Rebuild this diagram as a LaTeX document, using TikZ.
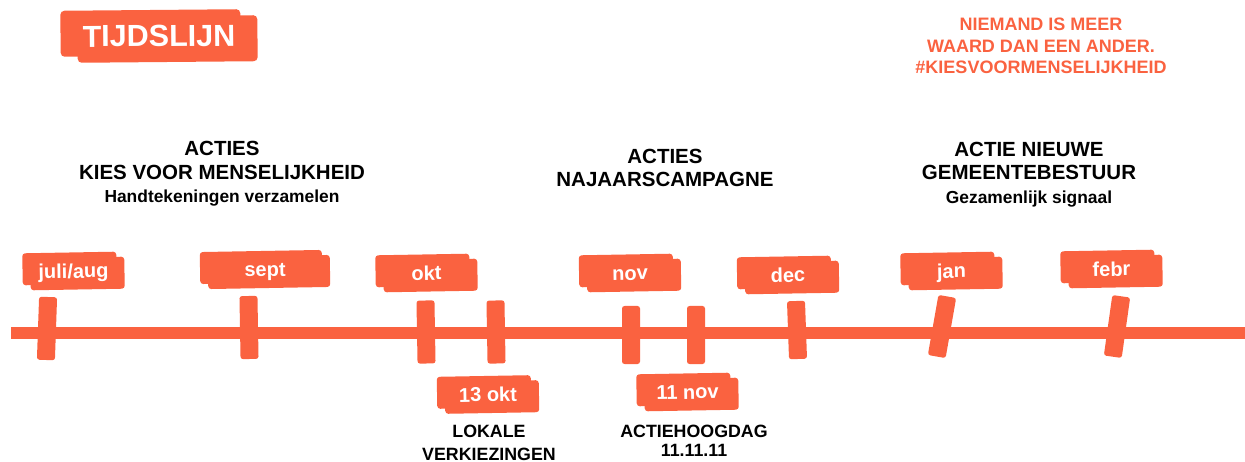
\documentclass[tikz,border=0pt]{standalone}
\usepackage{fontspec}
\setmainfont{Liberation Sans}
\usetikzlibrary{positioning}
\definecolor{tlorange}{RGB}{250,98,64}

\begin{document}
\begin{tikzpicture}[
  x=1pt, y=-1pt,
  tagbox/.style={
    shape=rectangle,
    rounded corners=3pt,
    minimum width=#1,
    minimum height=32pt,
    inner sep=0pt,
    text height=14pt,
    text depth=0pt,
    text=white,
    font=\bfseries\fontsize{20}{20}\selectfont,
    rotate=1,
    preaction={fill=tlorange, transform canvas={xshift=-4pt, yshift=2.5pt}},
    preaction={fill=tlorange, transform canvas={xshift=4pt, yshift=-2.5pt}}
  },
  tagbox/.default=94pt,
  titlebox/.style={
    shape=rectangle,
    rounded corners=4pt,
    minimum width=180pt,
    minimum height=46pt,
    inner sep=0pt,
    text=white,
    font=\bfseries\fontsize{30.5}{30.5}\selectfont,
    rotate=0.5,
    preaction={fill=tlorange, transform canvas={xshift=-8.5pt, yshift=3pt}},
    preaction={fill=tlorange, transform canvas={xshift=8.5pt, yshift=-3pt}}
  },
  tickbar/.style={
    fill=tlorange,
    rounded corners=2.5pt,
    minimum width=18pt,
    minimum height=#1,
    inner sep=0pt
  },
  heading/.style={
    align=center,
    font=\bfseries\fontsize{20.5}{23.5}\selectfont
  },
  footnote/.style={
    align=center,
    font=\bfseries\fontsize{17.8}{#1}\selectfont
  }
]
\useasboundingbox (0,0) rectangle (1245,462);

\node[titlebox] (title) at (159,36) {TIJDSLIJN};
\node[align=center, text=tlorange, font=\bfseries\fontsize{18}{21.5}\selectfont]
  (slogan) at (1041,46)
  {NIEMAND IS MEER\\WAARD DAN EEN ANDER.\\\#KIESVOORMENSELIJKHEID};

% tijdlijn
\coordinate (lineL) at (11,333);
\coordinate (lineR) at (1245,333);
\draw[tlorange, line width=12pt] (lineL) -- (lineR);

\foreach \tx/\ty/\ta/\th [count=\ti from 1] in
  {47/328.5/-2/63pt, 249/327.5/1/63pt, 426/332/1/63pt, 496/332/1/63pt,
   631/335/0/58pt, 696/335/0/58pt, 797/330/2/58pt, 942/326.5/-10/61pt,
   1117/326.5/-8/61pt}
  \node[tickbar=\th, rotate=\ta] (tick\ti) at (\tx,\ty) {};

\node[tagbox] (julaug) at (73.5,271) {juli/aug};
\node[tagbox=122pt] (sept) at (265,269.5) {sept};
\node[tagbox] (okt) at (426.5,273) {okt};
\node[tagbox] (okt13) at (488,394.5) {13 okt};
\node[tagbox] (nov) at (630,273) {nov};
\node[tagbox] (nov11) at (687.5,392) {11 nov};
\node[tagbox] (dec) at (788,275) {dec};
\node[tagbox] (jan) at (951.5,271) {jan};
\node[tagbox] (febr) at (1111.5,269) {febr};

\node[heading] (kies) at (222,174)
  {ACTIES\\KIES VOOR MENSELIJKHEID\\{\fontsize{17.4}{22}\selectfont Handtekeningen verzamelen}};
\node[heading] (najaar) at (665,168) {ACTIES\\NAJAARSCAMPAGNE};
\node[heading] (bestuur) at (1029,174.5)
  {ACTIE NIEUWE\\GEMEENTEBESTUUR\\{\fontsize{17.4}{22}\selectfont Gezamenlijk signaal}};

\node[footnote=23] (lokaal) at (489,443) {LOKALE\\VERKIEZINGEN};
\node[footnote=19] (hoogdag) at (694,441) {ACTIEHOOGDAG\\11.11.11};
\end{tikzpicture}
\end{document}
